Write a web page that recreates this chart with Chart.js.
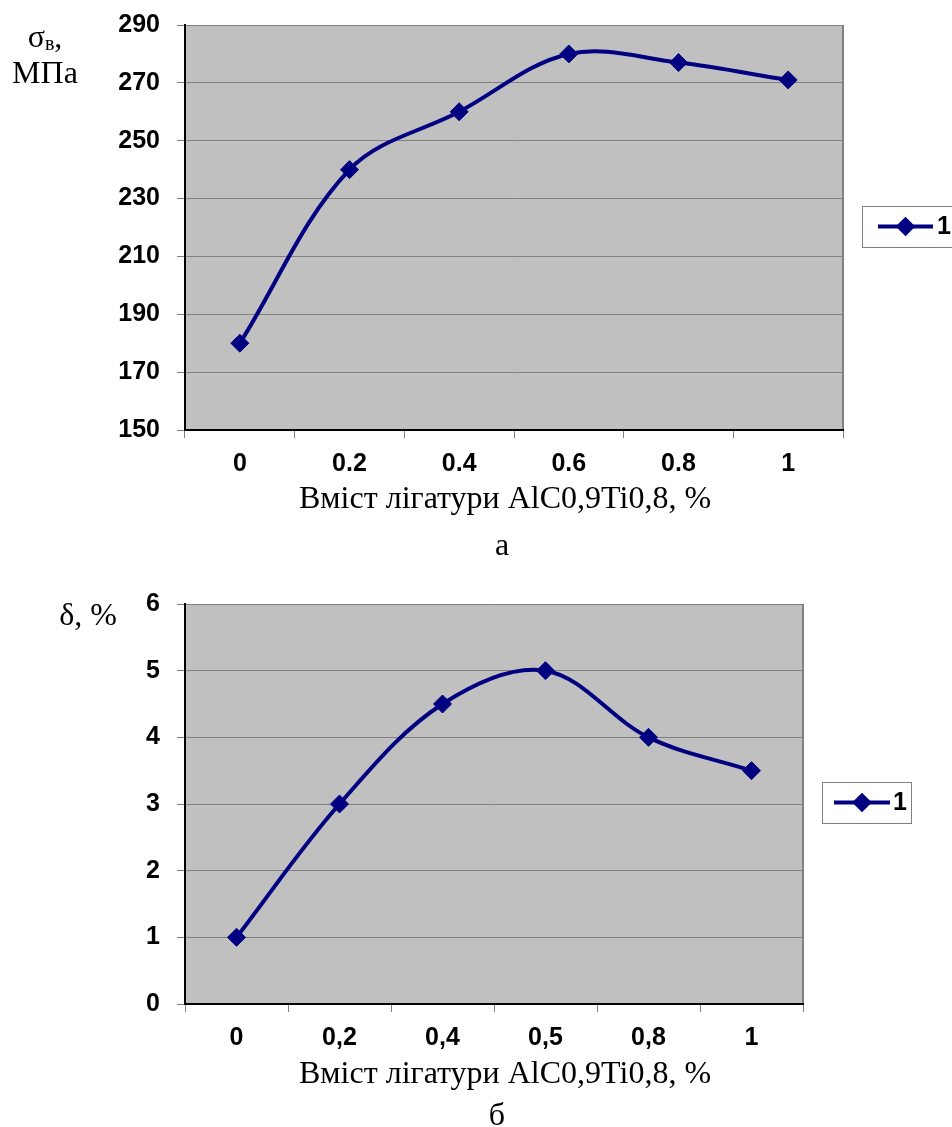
<!DOCTYPE html>
<html>
<head>
<meta charset="utf-8">
<script src="https://cdn.jsdelivr.net/npm/chart.js@4.4.0/dist/chart.umd.min.js"></script>
<style>
  html, body { margin: 0; padding: 0; background: #fff; overflow: hidden; width: 952px; height: 1127px; }
  #wrap { position: relative; width: 952px; height: 1127px; overflow: hidden; }
  canvas { position: absolute; left: 0; }
  .lbl { position: absolute; font-family: "Liberation Serif", "Times New Roman", serif; font-size: 32px;
         line-height: 36px; color: #000; text-align: center; white-space: nowrap; }
  .lbl .sub { font-size: 20px; position: relative; top: 3px; line-height: 0; }
</style>
</head>
<body>
<div id="wrap">
  <canvas id="chartA" width="952" height="590" style="top:-20px"></canvas>
  <canvas id="chartB" width="952" height="570" style="top:570px"></canvas>
  <div class="lbl" style="left:0;top:18px;width:90px;">σ<span class="sub">в</span>,<br>МПа</div>
  <div class="lbl" style="left:48px;top:596px;width:80px;">δ, %</div>
  <div class="lbl" id="titleA" style="left:299px;top:479px;width:400px;"></div>
  <div class="lbl" style="left:452px;top:526px;width:100px;">а</div>
  <div class="lbl" id="titleB" style="left:299px;top:1054px;width:400px;"></div>
  <div class="lbl" style="left:447px;top:1096px;width:100px;">б</div>
</div>
<script>
// chart (a): tensile strength
const labelsA = ['0', '0.2', '0.4', '0.6', '0.8', '1'];
const strengthA = [180, 240, 260, 280, 277, 271];
const ticksA = { min: 150, max: 290, step: 20 };

// chart (b): elongation
const labelsB = ['0', '0,2', '0,4', '0,5', '0,8', '1'];
const elongB = [1, 3, 4.5, 5, 4, 3.5];
const ticksB = { min: 0, max: 6, step: 1 };

const seriesName = '1';
const axisTitle = 'Вміст лігатури AlC0,9Ti0,8, %';
document.getElementById('titleA').textContent = axisTitle;
document.getElementById('titleB').textContent = axisTitle;

const navy = '#000080';
const tickFont = { family: '"Liberation Sans", Arial, sans-serif', size: 25, weight: 'bold' };

// grey plot area with the darker right edge
const plotBg = {
  id: 'plotBg',
  beforeDraw(chart) {
    const { ctx, chartArea: a } = chart;
    ctx.save();
    ctx.fillStyle = '#c0c0c0';
    ctx.fillRect(a.left, a.top, a.width, a.height);
    ctx.strokeStyle = '#808080';
    ctx.lineWidth = 2;
    ctx.beginPath();
    ctx.moveTo(a.right, a.top);
    ctx.lineTo(a.right, a.bottom);
    ctx.stroke();
    ctx.restore();
  }
};

// boxed legend on the right, like the spreadsheet one
const boxLegend = {
  id: 'boxLegend',
  afterDraw(chart, args, o) {
    const ctx = chart.ctx;
    const ds = chart.data.datasets[0];
    const cy = o.y + o.h / 2;
    ctx.save();
    ctx.fillStyle = '#fff';
    ctx.fillRect(o.x, o.y, o.w, o.h);
    ctx.strokeStyle = '#808080';
    ctx.lineWidth = 1;
    ctx.strokeRect(o.x + 0.5, o.y + 0.5, o.w, o.h);
    ctx.strokeStyle = ds.borderColor;
    ctx.lineWidth = 4;
    ctx.beginPath();
    ctx.moveTo(o.x + o.l0, cy);
    ctx.lineTo(o.x + o.l1, cy);
    ctx.stroke();
    ctx.fillStyle = ds.borderColor;
    ctx.strokeStyle = ds.borderColor;
    Chart.helpers.drawPoint(ctx, { pointStyle: 'rectRot', radius: 7, borderWidth: 1, rotation: 0 }, o.x + (o.l0 + o.l1) / 2, cy);
    ctx.fillStyle = '#000';
    ctx.font = 'bold 25px "Liberation Sans", Arial, sans-serif';
    ctx.textBaseline = 'middle';
    ctx.textAlign = 'left';
    ctx.fillText(ds.label, o.x + o.tx, cy + 1);
    ctx.restore();
  }
};

function makeChart(id, labels, values, yt, box) {
  return new Chart(document.getElementById(id), {
    type: 'line',
    data: {
      labels: labels,
      datasets: [{
        label: seriesName,
        data: values,
        borderColor: navy,
        backgroundColor: navy,
        borderWidth: 4,
        tension: 0.35,
        pointStyle: 'rectRot',
        pointRadius: 9,
        pointBorderWidth: 1,
        pointBackgroundColor: navy,
        pointBorderColor: navy,
        clip: false
      }]
    },
    options: {
      responsive: false,
      animation: false,
      devicePixelRatio: 1,
      layout: { padding: { left: 0, top: box.top, right: box.right, bottom: 0 } },
      plugins: {
        legend: { display: false },
        tooltip: { enabled: false },
        boxLegend: box.legend
      },
      scales: {
        x: {
          offset: true,
          grid: { offset: true, drawOnChartArea: false, color: '#808080', tickLength: 8, lineWidth: 1 },
          border: { color: '#000', width: 2 },
          ticks: { color: '#000', font: tickFont, padding: 11, maxRotation: 0, autoSkip: false },
          afterFit(s) { s.height = box.xh; }
        },
        y: {
          min: yt.min,
          max: yt.max,
          grid: { color: '#808080', tickLength: 8, lineWidth: 1 },
          border: { color: '#000', width: 2 },
          ticks: { stepSize: yt.step, color: '#000', font: tickFont, padding: 17 },
          afterFit(s) { s.width = 185; }
        }
      }
    },
    plugins: [plotBg, boxLegend]
  });
}

makeChart('chartA', labelsA, strengthA, ticksA,
  { top: 45, right: 109, xh: 140,
    legend: { x: 862, y: 226, w: 110, h: 41, l0: 16, l1: 71, tx: 75 } });

makeChart('chartB', labelsB, elongB, ticksB,
  { top: 34, right: 149, xh: 136,
    legend: { x: 822, y: 212, w: 89, h: 41, l0: 12, l1: 68, tx: 71 } });
</script>
</body>
</html>
